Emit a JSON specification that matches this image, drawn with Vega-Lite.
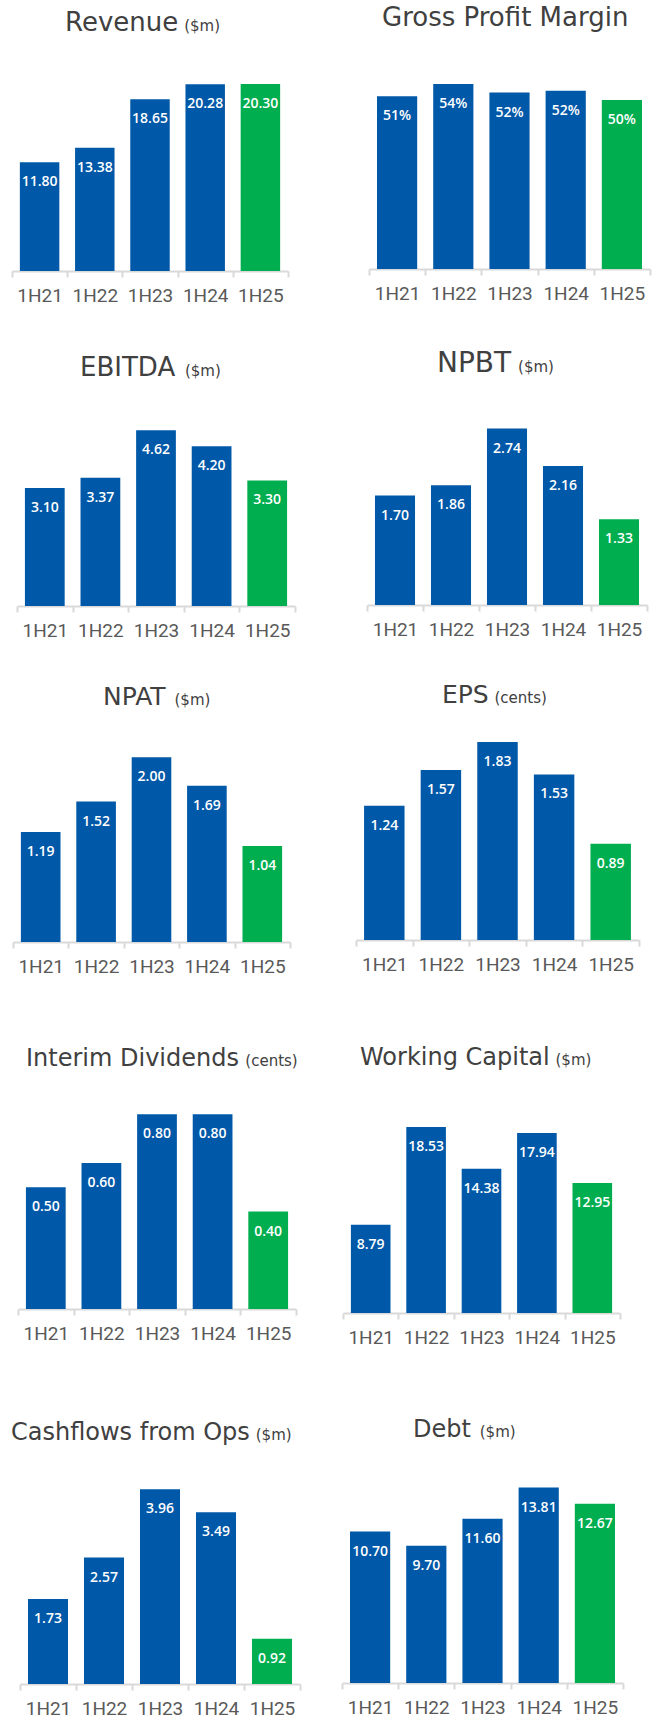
{
  "$schema": "https://vega.github.io/schema/vega-lite/v6.json",
  "padding": 0,
  "background": "white",
  "config": {
    "view": {"stroke": null},
    "concat": {"spacing": 0},
    "title": {"anchor": "start", "frame": "group", "font": "DejaVu Sans", "fontWeight": "normal", "color": "#404040", "subtitleFont": "DejaVu Sans", "subtitleFontSize": 15, "subtitleColor": "#404040", "subtitlePadding": -17},
    "axisX": {"tickBand": "extent", "domainColor": "#d9d9d9", "domainWidth": 2, "tickColor": "#d9d9d9", "tickWidth": 2, "tickSize": 6, "labelFont": "'Liberation Sans Narrow', Roboto", "labelFontSize": 19, "labelColor": "#595959", "labelPadding": 9, "labelAngle": 0, "minExtent": 40, "maxExtent": 40, "grid": false},
    "text": {"font": "Open Sans", "fontWeight": 600, "fontSize": 14, "color": "white", "baseline": "middle", "dy": 20},
    "bar": {"width": {"band": 0.715}}
  },
  "data": {"values": [
    {"metric": "Revenue", "period": "1H21", "value": 11.80, "label": "11.80", "type": "past"},
    {"metric": "Revenue", "period": "1H22", "value": 13.38, "label": "13.38", "type": "past"},
    {"metric": "Revenue", "period": "1H23", "value": 18.65, "label": "18.65", "type": "past"},
    {"metric": "Revenue", "period": "1H24", "value": 20.28, "label": "20.28", "type": "past"},
    {"metric": "Revenue", "period": "1H25", "value": 20.30, "label": "20.30", "type": "latest"},
    {"metric": "GPM", "period": "1H21", "value": 50.4, "label": "51%", "type": "past"},
    {"metric": "GPM", "period": "1H22", "value": 54.0, "label": "54%", "type": "past"},
    {"metric": "GPM", "period": "1H23", "value": 51.5, "label": "52%", "type": "past"},
    {"metric": "GPM", "period": "1H24", "value": 52.0, "label": "52%", "type": "past"},
    {"metric": "GPM", "period": "1H25", "value": 49.3, "label": "50%", "type": "latest"},
    {"metric": "EBITDA", "period": "1H21", "value": 3.10, "label": "3.10", "type": "past"},
    {"metric": "EBITDA", "period": "1H22", "value": 3.37, "label": "3.37", "type": "past"},
    {"metric": "EBITDA", "period": "1H23", "value": 4.62, "label": "4.62", "type": "past"},
    {"metric": "EBITDA", "period": "1H24", "value": 4.20, "label": "4.20", "type": "past"},
    {"metric": "EBITDA", "period": "1H25", "value": 3.30, "label": "3.30", "type": "latest"},
    {"metric": "NPBT", "period": "1H21", "value": 1.70, "label": "1.70", "type": "past"},
    {"metric": "NPBT", "period": "1H22", "value": 1.86, "label": "1.86", "type": "past"},
    {"metric": "NPBT", "period": "1H23", "value": 2.74, "label": "2.74", "type": "past"},
    {"metric": "NPBT", "period": "1H24", "value": 2.16, "label": "2.16", "type": "past"},
    {"metric": "NPBT", "period": "1H25", "value": 1.33, "label": "1.33", "type": "latest"},
    {"metric": "NPAT", "period": "1H21", "value": 1.19, "label": "1.19", "type": "past"},
    {"metric": "NPAT", "period": "1H22", "value": 1.52, "label": "1.52", "type": "past"},
    {"metric": "NPAT", "period": "1H23", "value": 2.00, "label": "2.00", "type": "past"},
    {"metric": "NPAT", "period": "1H24", "value": 1.69, "label": "1.69", "type": "past"},
    {"metric": "NPAT", "period": "1H25", "value": 1.04, "label": "1.04", "type": "latest"},
    {"metric": "EPS", "period": "1H21", "value": 1.24, "label": "1.24", "type": "past"},
    {"metric": "EPS", "period": "1H22", "value": 1.57, "label": "1.57", "type": "past"},
    {"metric": "EPS", "period": "1H23", "value": 1.83, "label": "1.83", "type": "past"},
    {"metric": "EPS", "period": "1H24", "value": 1.53, "label": "1.53", "type": "past"},
    {"metric": "EPS", "period": "1H25", "value": 0.89, "label": "0.89", "type": "latest"},
    {"metric": "DIV", "period": "1H21", "value": 0.50, "label": "0.50", "type": "past"},
    {"metric": "DIV", "period": "1H22", "value": 0.60, "label": "0.60", "type": "past"},
    {"metric": "DIV", "period": "1H23", "value": 0.80, "label": "0.80", "type": "past"},
    {"metric": "DIV", "period": "1H24", "value": 0.80, "label": "0.80", "type": "past"},
    {"metric": "DIV", "period": "1H25", "value": 0.40, "label": "0.40", "type": "latest"},
    {"metric": "WC", "period": "1H21", "value": 8.79, "label": "8.79", "type": "past"},
    {"metric": "WC", "period": "1H22", "value": 18.53, "label": "18.53", "type": "past"},
    {"metric": "WC", "period": "1H23", "value": 14.38, "label": "14.38", "type": "past"},
    {"metric": "WC", "period": "1H24", "value": 17.94, "label": "17.94", "type": "past"},
    {"metric": "WC", "period": "1H25", "value": 12.95, "label": "12.95", "type": "latest"},
    {"metric": "CFO", "period": "1H21", "value": 1.73, "label": "1.73", "type": "past"},
    {"metric": "CFO", "period": "1H22", "value": 2.57, "label": "2.57", "type": "past"},
    {"metric": "CFO", "period": "1H23", "value": 3.96, "label": "3.96", "type": "past"},
    {"metric": "CFO", "period": "1H24", "value": 3.49, "label": "3.49", "type": "past"},
    {"metric": "CFO", "period": "1H25", "value": 0.92, "label": "0.92", "type": "latest"},
    {"metric": "Debt", "period": "1H21", "value": 10.70, "label": "10.70", "type": "past"},
    {"metric": "Debt", "period": "1H22", "value": 9.70, "label": "9.70", "type": "past"},
    {"metric": "Debt", "period": "1H23", "value": 11.60, "label": "11.60", "type": "past"},
    {"metric": "Debt", "period": "1H24", "value": 13.81, "label": "13.81", "type": "past"},
    {"metric": "Debt", "period": "1H25", "value": 12.67, "label": "12.67", "type": "latest"}
  ]},
  "vconcat": [
    {"hconcat": [
      {"width": 327, "height": 271,
       "title": {"text": "Revenue", "subtitle": "\u200b\u00a0\u00a0\u00a0\u00a0\u00a0\u00a0\u00a0\u00a0\u00a0\u00a0\u00a0\u00a0\u00a0\u00a0\u00a0\u00a0\u00a0\u00a0\u00a0\u00a0\u00a0\u00a0\u00a0\u00a0\u00a0($m)", "fontSize": 26, "offset": -36, "dx": 65},
       "transform": [{"filter": "datum.metric === 'Revenue'"}],
       "encoding": {
         "x": {"field": "period", "type": "nominal", "sort": null, "title": null, "scale": {"range": [12, 288], "paddingInner": 0, "paddingOuter": 0}},
         "y": {"field": "value", "type": "quantitative", "axis": null, "scale": {"domain": [0, 29.42], "nice": false}}
       },
       "layer": [
         {"mark": "bar", "encoding": {"color": {"field": "type", "type": "nominal", "legend": null, "scale": {"domain": ["past", "latest"], "range": ["#0058a8", "#00ae4f"]}}}},
         {"mark": "text", "encoding": {"text": {"field": "label"}}}
       ]},
      {"width": 327, "height": 269,
       "title": {"text": "Gross Profit Margin", "fontSize": 26, "offset": -31, "dx": 55},
       "transform": [{"filter": "datum.metric === 'GPM'"}],
       "encoding": {
         "x": {"field": "period", "type": "nominal", "sort": null, "title": null, "scale": {"range": [42, 323], "paddingInner": 0, "paddingOuter": 0}},
         "y": {"field": "value", "type": "quantitative", "axis": null, "scale": {"domain": [0, 78.5], "nice": false}}
       },
       "layer": [
         {"mark": "bar", "encoding": {"color": {"field": "type", "type": "nominal", "legend": null, "scale": {"domain": ["past", "latest"], "range": ["#0058a8", "#00ae4f"]}}}},
         {"mark": "text", "encoding": {"text": {"field": "label"}}}
       ]}
    ]},
    {"hconcat": [
      {"width": 327, "height": 295,
       "title": {"text": "EBITDA", "subtitle": "\u200b\u00a0\u00a0\u00a0\u00a0\u00a0\u00a0\u00a0\u00a0\u00a0\u00a0\u00a0\u00a0\u00a0\u00a0\u00a0\u00a0\u00a0\u00a0\u00a0\u00a0\u00a0\u00a0($m)", "fontSize": 26, "offset": -70, "dx": 80},
       "transform": [{"filter": "datum.metric === 'EBITDA'"}],
       "encoding": {
         "x": {"field": "period", "type": "nominal", "sort": null, "title": null, "scale": {"range": [17, 295], "paddingInner": 0, "paddingOuter": 0}},
         "y": {"field": "value", "type": "quantitative", "axis": null, "scale": {"domain": [0, 7.753], "nice": false}}
       },
       "layer": [
         {"mark": "bar", "encoding": {"color": {"field": "type", "type": "nominal", "legend": null, "scale": {"domain": ["past", "latest"], "range": ["#0058a8", "#00ae4f"]}}}},
         {"mark": "text", "encoding": {"text": {"field": "label"}}}
       ]},
      {"width": 327, "height": 294,
       "title": {"text": "NPBT", "subtitle": "\u200b\u00a0\u00a0\u00a0\u00a0\u00a0\u00a0\u00a0\u00a0\u00a0\u00a0\u00a0\u00a0\u00a0\u00a0\u00a0\u00a0\u00a0($m)", "fontSize": 28, "subtitlePadding": -18, "offset": -67, "dx": 110},
       "transform": [{"filter": "datum.metric === 'NPBT'"}],
       "encoding": {
         "x": {"field": "period", "type": "nominal", "sort": null, "title": null, "scale": {"range": [40, 320], "paddingInner": 0, "paddingOuter": 0}},
         "y": {"field": "value", "type": "quantitative", "axis": null, "scale": {"domain": [0, 4.565], "nice": false}}
       },
       "layer": [
         {"mark": "bar", "encoding": {"color": {"field": "type", "type": "nominal", "legend": null, "scale": {"domain": ["past", "latest"], "range": ["#0058a8", "#00ae4f"]}}}},
         {"mark": "text", "encoding": {"text": {"field": "label"}}}
       ]}
    ]},
    {"hconcat": [
      {"width": 327, "height": 296,
       "title": {"text": "NPAT", "subtitle": "\u200b\u00a0\u00a0\u00a0\u00a0\u00a0\u00a0\u00a0\u00a0\u00a0\u00a0\u00a0\u00a0\u00a0\u00a0\u00a0($m)", "fontSize": 25, "offset": -64, "dx": 103},
       "transform": [{"filter": "datum.metric === 'NPAT'"}],
       "encoding": {
         "x": {"field": "period", "type": "nominal", "sort": null, "title": null, "scale": {"range": [13, 290], "paddingInner": 0, "paddingOuter": 0}},
         "y": {"field": "value", "type": "quantitative", "axis": null, "scale": {"domain": [0, 3.203], "nice": false}}
       },
       "layer": [
         {"mark": "bar", "encoding": {"color": {"field": "type", "type": "nominal", "legend": null, "scale": {"domain": ["past", "latest"], "range": ["#0058a8", "#00ae4f"]}}}},
         {"mark": "text", "encoding": {"text": {"field": "label"}}}
       ]},
      {"width": 327, "height": 294,
       "title": {"text": "EPS", "subtitle": "\u200b\u00a0\u00a0\u00a0\u00a0\u00a0\u00a0\u00a0\u00a0\u00a0\u00a0\u00a0(cents)", "fontSize": 25, "offset": -62, "dx": 115},
       "transform": [{"filter": "datum.metric === 'EPS'"}],
       "encoding": {
         "x": {"field": "period", "type": "nominal", "sort": null, "title": null, "scale": {"range": [29, 312], "paddingInner": 0, "paddingOuter": 0}},
         "y": {"field": "value", "type": "quantitative", "axis": null, "scale": {"domain": [0, 2.717], "nice": false}}
       },
       "layer": [
         {"mark": "bar", "encoding": {"color": {"field": "type", "type": "nominal", "legend": null, "scale": {"domain": ["past", "latest"], "range": ["#0058a8", "#00ae4f"]}}}},
         {"mark": "text", "encoding": {"text": {"field": "label"}}}
       ]}
    ]},
    {"hconcat": [
      {"width": 327, "height": 327,
       "title": {"text": "Interim Dividends", "subtitle": "\u200b\u00a0\u00a0\u00a0\u00a0\u00a0\u00a0\u00a0\u00a0\u00a0\u00a0\u00a0\u00a0\u00a0\u00a0\u00a0\u00a0\u00a0\u00a0\u00a0\u00a0\u00a0\u00a0\u00a0\u00a0\u00a0\u00a0\u00a0\u00a0\u00a0\u00a0\u00a0\u00a0\u00a0\u00a0\u00a0\u00a0\u00a0\u00a0\u00a0\u00a0\u00a0\u00a0\u00a0\u00a0\u00a0\u00a0(cents)", "fontSize": 24, "offset": -89, "dx": 26},
       "transform": [{"filter": "datum.metric === 'DIV'"}],
       "encoding": {
         "x": {"field": "period", "type": "nominal", "sort": null, "title": null, "scale": {"range": [18, 296], "paddingInner": 0, "paddingOuter": 0}},
         "y": {"field": "value", "type": "quantitative", "axis": null, "scale": {"domain": [0, 1.343], "nice": false}}
       },
       "layer": [
         {"mark": "bar", "encoding": {"color": {"field": "type", "type": "nominal", "legend": null, "scale": {"domain": ["past", "latest"], "range": ["#0058a8", "#00ae4f"]}}}},
         {"mark": "text", "encoding": {"text": {"field": "label"}}}
       ]},
      {"width": 327, "height": 331,
       "title": {"text": "Working Capital", "subtitle": "\u200b\u00a0\u00a0\u00a0\u00a0\u00a0\u00a0\u00a0\u00a0\u00a0\u00a0\u00a0\u00a0\u00a0\u00a0\u00a0\u00a0\u00a0\u00a0\u00a0\u00a0\u00a0\u00a0\u00a0\u00a0\u00a0\u00a0\u00a0\u00a0\u00a0\u00a0\u00a0\u00a0\u00a0\u00a0\u00a0\u00a0\u00a0\u00a0\u00a0\u00a0\u00a0($m)", "fontSize": 24, "offset": -88, "dx": 33},
       "transform": [{"filter": "datum.metric === 'WC'"}],
       "encoding": {
         "x": {"field": "period", "type": "nominal", "sort": null, "title": null, "scale": {"range": [16, 293], "paddingInner": 0, "paddingOuter": 0}},
         "y": {"field": "value", "type": "quantitative", "axis": null, "scale": {"domain": [0, 32.97], "nice": false}}
       },
       "layer": [
         {"mark": "bar", "encoding": {"color": {"field": "type", "type": "nominal", "legend": null, "scale": {"domain": ["past", "latest"], "range": ["#0058a8", "#00ae4f"]}}}},
         {"mark": "text", "encoding": {"text": {"field": "label"}}}
       ]}
    ]},
    {"hconcat": [
      {"width": 327, "height": 331,
       "title": {"text": "Cashflows from Ops", "subtitle": "\u200b\u2003\u2003\u2003\u2003\u2003\u2003\u2003\u2003\u2003\u2003\u2003\u2003\u2003\u2003\u2003\u2003\u00a0($m)", "fontSize": 24, "offset": -92, "dx": 11},
       "transform": [{"filter": "datum.metric === 'CFO'"}],
       "encoding": {
         "x": {"field": "period", "type": "nominal", "sort": null, "title": null, "scale": {"range": [20, 300], "paddingInner": 0, "paddingOuter": 0}},
         "y": {"field": "value", "type": "quantitative", "axis": null, "scale": {"domain": [0, 6.728], "nice": false}}
       },
       "layer": [
         {"mark": "bar", "encoding": {"color": {"field": "type", "type": "nominal", "legend": null, "scale": {"domain": ["past", "latest"], "range": ["#0058a8", "#00ae4f"]}}}},
         {"mark": "text", "encoding": {"text": {"field": "label"}}}
       ]},
      {"width": 327, "height": 330,
       "title": {"text": "Debt", "subtitle": "\u200b\u00a0\u00a0\u00a0\u00a0\u00a0\u00a0\u00a0\u00a0\u00a0\u00a0\u00a0\u00a0\u00a0\u00a0($m)", "fontSize": 24, "offset": -89, "dx": 86},
       "transform": [{"filter": "datum.metric === 'Debt'"}],
       "encoding": {
         "x": {"field": "period", "type": "nominal", "sort": null, "title": null, "scale": {"range": [15, 296], "paddingInner": 0, "paddingOuter": 0}},
         "y": {"field": "value", "type": "quantitative", "axis": null, "scale": {"domain": [0, 23.32], "nice": false}}
       },
       "layer": [
         {"mark": "bar", "encoding": {"color": {"field": "type", "type": "nominal", "legend": null, "scale": {"domain": ["past", "latest"], "range": ["#0058a8", "#00ae4f"]}}}},
         {"mark": "text", "encoding": {"text": {"field": "label"}}}
       ]}
    ]}
  ]
}
